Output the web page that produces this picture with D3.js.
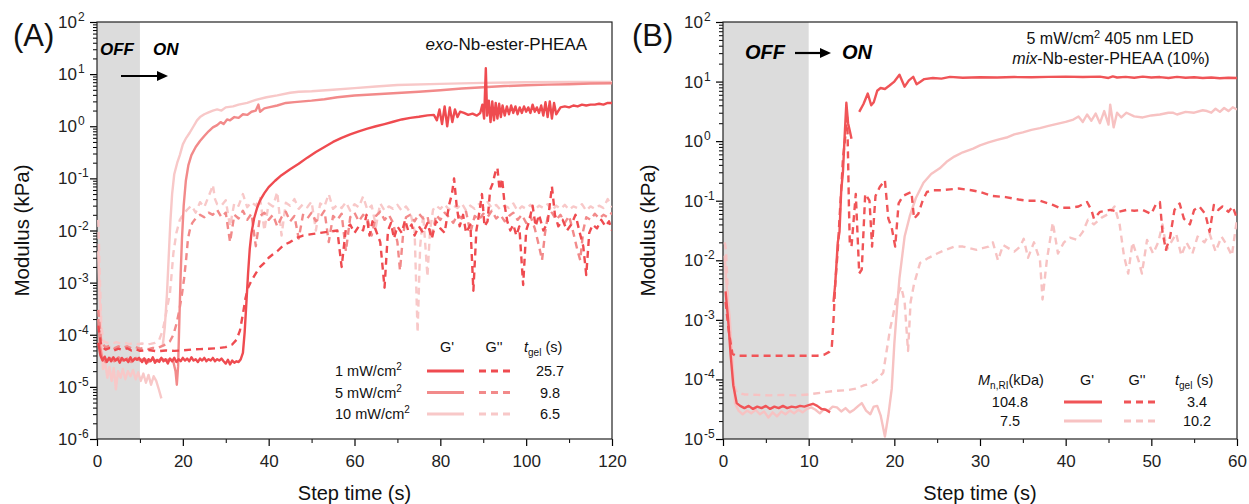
<!DOCTYPE html>
<html>
<head>
<meta charset="utf-8">
<script src="https://cdn.jsdelivr.net/npm/d3@7"></script>
<style>
  body { margin: 0; background: #fff; }
  svg { font-family: "Liberation Sans", Arial, sans-serif; }
</style>
</head>
<body>
<div class="chart"></div>
<script>
// #region Data (step time s, modulus kPa); null = gap in the trace

// panel A : exo-Nb-ester-PHEAA, three light intensities
const aIntensity = ["1 mW/cm", "5 mW/cm", "10 mW/cm"];
const aTgel = ["25.7", "9.8", "6.5"];
const aG1 = [[0.3,7e-5],[0.8,4e-5],[1.3,3.2e-5],[1.8,3.8e-5],[2.3,3e-5],[2.8,3.6e-5],[3.3,3.1e-5],[3.8,3.7e-5],[4.3,3.2e-5],[4.8,3.5e-5],[5.3,2.9e-5],[5.8,3.6e-5],[6.3,3.2e-5],[6.8,3.4e-5],[7.3,3e-5],[7.8,3.7e-5],[8.3,3.1e-5],[8.8,3.5e-5],[9.3,3.3e-5],[9.8,3.6e-5],[10.5,3e-5],[11,3.5e-5],[11.5,2.8e-5],[12,3.4e-5],[12.5,3.1e-5],[13,3.7e-5],[13.5,2.9e-5],[14,3.3e-5],[14.5,3e-5],[15,3.6e-5],[15.5,3.1e-5],[16,3.4e-5],[16.5,2.8e-5],[17,3.5e-5],[17.5,3.1e-5],[18,3.6e-5],[18.5,3e-5],[19,3.4e-5],[19.5,3.1e-5],[20,3.6e-5],[20.5,3.2e-5],[21,3.5e-5],[21.5,3.1e-5],[22,3.7e-5],[22.5,3.2e-5],[23,3.4e-5],[23.5,3e-5],[24,3.5e-5],[24.5,3.2e-5],[25,3.6e-5],[25.5,3.1e-5],[26,3.4e-5],[26.5,3.2e-5],[27,3.6e-5],[27.5,3.1e-5],[28,3.4e-5],[28.5,3.2e-5],[29,3.5e-5],[29.5,3.1e-5],[30,2.8e-5],[30.5,3.3e-5],[31,2.7e-5],[31.5,3.2e-5],[32,2.9e-5],[32.5,3.1e-5],[33,3e-5],[33.5,3.4e-5],[34,4.5e-5],[34.4,1.1e-4],[34.8,4e-4],[35.2,1.5e-3],[35.6,4.5e-3],[36,9e-3],[36.6,0.017],[37.3,0.027],[38,0.038],[39,0.052],[40,0.068],[41.5,0.09],[43,0.115],[45,0.15],[47,0.19],[49,0.25],[51,0.32],[53,0.4],[55,0.5],[57,0.6],[59,0.7],[61,0.8],[63,0.9],[65,1.0],[67,1.1],[69,1.22],[71,1.35],[73,1.45],[75,1.52],[77,1.62],[78.5,1.65],[79.2,1.3],[79.8,2.1],[80.4,1.1],[81,2.4],[81.6,1.0],[82.2,2.3],[82.8,1.2],[83.4,2.1],[84,1.5],[84.6,1.9],[85.5,1.8],[86.5,1.65],[87.5,1.75],[88.5,1.6],[89.3,1.8],[89.8,2.6],[90.2,1.4],[90.6,13],[90.9,1.6],[91.3,3.1],[91.7,1.2],[92.1,3.0],[92.5,1.3],[92.9,2.8],[93.3,1.4],[93.7,2.7],[94.1,1.5],[94.5,2.5],[95,1.6],[95.5,2.4],[96,1.7],[96.5,2.5],[97,1.8],[97.5,2.4],[98,1.7],[98.5,2.3],[99,1.8],[99.5,2.4],[100,1.9],[100.5,2.3],[101,1.8],[101.5,2.6],[102,1.9],[102.5,2.3],[103,1.8],[103.5,2.5],[104,1.6],[104.5,2.9],[105,1.5],[105.5,3.0],[106,1.4],[106.5,2.8],[107,1.7],[108,2.3],[109,2.4],[110,2.3],[111,2.5],[112,2.4],[113,2.6],[114,2.5],[115,2.6],[116,2.6],[117,2.7],[118,2.6],[119,2.8],[120,2.8]];
const aG5 = [[0.3,2e-4],[0.7,6e-5],[1.2,3.6e-5],[2,3e-5],[3,3.6e-5],[4,3.1e-5],[5,3.7e-5],[6,3.2e-5],[7,3.5e-5],[8,3e-5],[9,3.6e-5],[10,3.2e-5],[11,3.5e-5],[12,3e-5],[13,3.4e-5],[14,3.1e-5],[15,3.5e-5],[16,3.2e-5],[17,3.4e-5],[17.8,3e-5],[18.3,2e-5],[18.6,1.1e-5],[18.9,2.5e-5],[19.2,2e-4],[19.5,1.5e-3],[19.8,7e-3],[20.2,0.03],[20.7,0.09],[21.3,0.18],[22,0.28],[23,0.4],[24,0.52],[25,0.65],[26,0.8],[27,0.95],[28,1.05],[28.8,1.2],[29.5,1.1],[30.3,1.35],[31,1.3],[32,1.5],[33,1.45],[34,1.7],[35,1.65],[36,1.9],[37,2.0],[37.6,2.6],[38,1.9],[39,2.2],[40,2.3],[42,2.5],[44,2.8],[46,2.9],[48,3.0],[50,3.1],[53,3.3],[56,3.6],[60,3.9],[65,4.1],[70,4.35],[75,4.6],[80,4.9],[85,5.3],[90,5.6],[95,5.9],[100,6.1],[105,6.3],[110,6.4],[115,6.6],[120,6.7]];
const aG10 = [[0.3,4e-3],[0.6,6e-4],[1,9e-5],[1.4,2.2e-5],[1.9,3e-5],[2.4,1.5e-5],[2.9,2.4e-5],[3.4,1.3e-5],[3.9,2.3e-5],[4.4,9e-6],[4.9,2e-5],[5.5,1.5e-5],[6,2.2e-5],[6.6,1.4e-5],[7.2,2e-5],[7.8,1.6e-5],[8.4,2.1e-5],[9,1.4e-5],[9.6,1.9e-5],[10.2,1.3e-5],[10.8,1.8e-5],[11.4,1.2e-5],[12,1.7e-5],[12.6,1.1e-5],[13.2,1.6e-5],[13.8,1.3e-5],[14.4,9e-6],[15,6e-6],null,[15.3,6e-5],[15.8,1.4e-4],[16.3,6e-4],[16.7,3e-3],[17.1,0.015],[17.5,0.05],[18,0.12],[18.7,0.2],[19.3,0.28],[20,0.45],[20.8,0.6],[21.6,0.75],[22.5,1.0],[23.3,1.3],[24,1.5],[25,1.7],[26,1.85],[27,2.0],[28,2.1],[29,2.0],[30,2.3],[31.7,2.4],[33,2.6],[35,2.8],[37,3.2],[39.5,3.6],[42,3.9],[45,4.4],[47,4.6],[50,4.7],[55,5.0],[60,5.4],[65,5.8],[70,6.2],[80,6.5],[90,6.8],[100,7.0],[110,7.1],[120,7.1]];
const aV1 = [[0.3,1.5e-4],[1,6e-5],[2,5.2e-5],[3,5.6e-5],[4,5e-5],[5,5.4e-5],[6,5.1e-5],[7,5.5e-5],[8,5e-5],[9,5.3e-5],[10,4.9e-5],[12,5.1e-5],[14,4.8e-5],[16,5e-5],[18,4.9e-5],[20,5e-5],[22,5.2e-5],[24,5.3e-5],[26,5.4e-5],[28,5.5e-5],[30,5.8e-5],[31.5,6.5e-5],[32.5,8e-5],[33.3,1.2e-4],[34,2.5e-4],[34.6,5e-4],[35.2,8e-4],[36,1.1e-3],[37,1.5e-3],[38,2e-3],[39,2.4e-3],[40,3e-3],[41,3.5e-3],[42,4e-3],[43,4.8e-3],[44,5.5e-3],[45,6e-3],[46,6.8e-3],[47,7.5e-3],[48,8e-3],[50,8.5e-3],[52,9e-3],[54,9.5e-3],[56,0.01],[57,2e-3],[58,0.011],[59,0.013],[60,0.009],[61,0.012],[62,0.01],[62.8,0.02],[63.5,0.008],[64.2,0.015],[65,0.01],[66,0.006],[67,8e-4],[67.8,0.01],[68.5,0.014],[69.2,0.007],[70,0.012],[71,0.009],[71.8,0.016],[72.5,0.01],[73.3,0.013],[74,0.008],[75,0.012],[76,0.009],[77,0.014],[78,0.007],[79,0.015],[80,0.011],[81,0.009],[82,0.03],[82.7,0.05],[83.2,0.1],[83.8,0.03],[84.5,0.012],[85.3,0.02],[86,0.009],[87,0.013],[87.7,7e-4],[88.4,0.01],[89,0.02],[89.7,0.05],[90.3,0.012],[91,0.015],[91.6,0.06],[92.2,0.08],[92.8,0.13],[93.3,0.16],[93.8,0.06],[94.4,0.1],[95,0.03],[95.6,0.015],[96.3,0.01],[97,0.013],[97.7,0.008],[98.4,0.012],[99.3,9e-4],[100,0.01],[100.7,0.015],[101.5,0.03],[102.2,0.012],[103,0.02],[104,0.01],[105,0.014],[106,0.07],[106.7,0.02],[107.5,0.012],[108.5,0.016],[109.5,0.01],[110.5,0.013],[111.5,0.02],[112.5,0.009],[113.3,0.005],[114,1.4e-3],[114.7,0.009],[115.5,0.013],[116.5,0.011],[117.5,0.016],[118.5,0.012],[119.3,0.015],[120,0.01]];
const aV5 = [[0.3,3e-4],[1,7e-5],[2,5.8e-5],[3,6.2e-5],[4,5.5e-5],[5,6e-5],[6,5.6e-5],[7,6e-5],[8,5.5e-5],[9,5.8e-5],[10,5.4e-5],[11,5.6e-5],[12,5.3e-5],[13,5.6e-5],[14,5.5e-5],[15,6e-5],[16,6.5e-5],[17,7.5e-5],[17.8,1e-4],[18.5,1.6e-4],[19.2,3e-4],[19.8,6e-4],[20.3,1.2e-3],[20.8,3e-3],[21.2,7e-3],[21.6,0.01],[22.2,0.014],[23,0.017],[24,0.02],[25,0.018],[26,0.022],[27,0.02],[28,0.025],[29,0.018],[30,0.022],[31,0.006],[32,0.02],[33,0.017],[34,0.024],[35,0.016],[36,0.021],[37,0.005],[38,0.019],[39,0.022],[40,0.016],[41,0.02],[42,0.012],[43,0.018],[44,0.023],[45,0.015],[46,0.019],[47,0.007],[48,0.02],[49,0.017],[50,0.022],[51,0.015],[52,0.018],[53,0.024],[54,0.006],[55,0.019],[56,0.016],[57,0.021],[58,0.004],[59,0.018],[60,0.022],[61,0.015],[62,0.02],[63,0.017],[64,0.008],[65,0.019],[66,0.023],[67,0.016],[68,0.02],[69,0.014],[70,0.006],[70.6,1.7e-3],[71.3,0.008],[72,0.018],[73,0.02],[74,0.015],[75,0.021],[76,0.017],[77,0.019],[78,0.007],[79,0.02],[80,0.016],[81,0.022],[82,0.018],[83,0.014],[84,0.02],[85,0.017],[86,0.023],[87,0.009],[88,0.019],[89,0.016],[90,0.021],[91,0.018],[92,0.024],[93,0.017],[94,0.02],[95,0.015],[96,0.019],[97,0.022],[98,0.016],[99,0.02],[100,0.014],[101,0.019],[102,0.011],[103,0.005],[103.7,2.7e-3],[104.4,0.009],[105,0.018],[106,0.022],[107,0.016],[108,0.02],[109,0.014],[110,0.019],[111,0.009],[112,0.004],[112.6,2.7e-3],[113.3,0.01],[114,0.018],[115,0.016],[116,0.021],[117,0.017],[118,0.02],[119,0.018],[120,0.022]];
const aV10 = [[0.3,0.016],[0.6,2e-3],[1,1.5e-4],[1.5,7.5e-5],[2.5,7e-5],[3.5,6.8e-5],[4.5,7.2e-5],[5.5,6.8e-5],[6.5,7e-5],[7.5,6.6e-5],[8.5,6.9e-5],[9.5,6.6e-5],[10.5,6.8e-5],[11.5,6.5e-5],[12.5,6.7e-5],[13.5,7e-5],[14.5,8e-5],[15.3,1.2e-4],[15.8,1.9e-4],[16.4,3.5e-4],[17,6.3e-4],[17.4,1.5e-3],[17.8,3.7e-3],[18.5,9e-3],[19.3,0.016],[20,0.02],[21,0.025],[22,0.03],[23,0.022],[24,0.035],[25,0.028],[26,0.045],[26.6,0.06],[27,0.075],[27.5,0.04],[28,0.032],[29,0.03],[30,0.038],[31,0.012],[32,0.034],[33,0.03],[34,0.05],[35,0.028],[36,0.035],[37,0.03],[38,0.042],[39,0.01],[40,0.033],[41,0.029],[42,0.055],[43,0.008],[44,0.034],[45,0.03],[46,0.04],[47,0.026],[48,0.032],[49,0.028],[50,0.036],[51,0.01],[52,0.033],[53,0.029],[54,0.05],[55,0.026],[56,0.031],[57,0.027],[58,0.035],[59,0.024],[60,0.032],[61,0.028],[62,0.045],[63,0.025],[64,0.03],[65,0.012],[66,0.033],[67,0.024],[68,0.029],[69,0.026],[70,0.031],[71,0.024],[72,0.029],[73,0.022],[74,0.01],[74.7,1.1e-4],[75.3,0.005],[76,0.02],[76.6,0.004],[77,1.3e-3],[77.6,0.01],[78.3,0.025],[79,0.03],[80,0.026],[81,0.032],[82,0.025],[83,0.03],[84,0.027],[85,0.033],[86,0.024],[87,0.03],[88,0.026],[89,0.032],[90,0.028],[91,0.035],[92,0.027],[93,0.031],[94,0.025],[95,0.03],[96,0.027],[97,0.033],[98,0.024],[99,0.029],[100,0.026],[101,0.031],[102,0.025],[103,0.03],[104,0.027],[105,0.032],[106,0.024],[107,0.03],[108,0.026],[109,0.031],[110,0.025],[111,0.029],[112,0.027],[113,0.032],[114,0.024],[115,0.029],[116,0.026],[117,0.03],[118,0.027],[119,0.04],[120,0.028]];

// panel B : mix-Nb-ester-PHEAA (10%), two molecular weights
const bMn = ["104.8", "7.5"];
const bTgel = ["3.4", "10.2"];
const bG104 = [[0.3,3e-3],[0.6,1e-3],[0.9,2.5e-4],[1.2,8e-5],[1.6,4e-5],[2,3.6e-5],[2.5,3.3e-5],[3,3.6e-5],[3.5,3.2e-5],[4,3.5e-5],[4.5,3.3e-5],[5,3.6e-5],[5.5,3.2e-5],[6,3.5e-5],[6.5,3.3e-5],[7,3.6e-5],[7.5,3.3e-5],[8,3.5e-5],[8.5,3.4e-5],[9,3.6e-5],[9.5,3.5e-5],[10,3.7e-5],[10.5,3.9e-5],[11,3.6e-5],[11.5,3.2e-5],[12,3.1e-5],[12.5,2.8e-5],null,[12.9,2e-3],[13.1,4e-3],[13.4,0.02],[13.6,0.03],[13.8,0.15],[14,0.3],[14.2,1.2],[14.4,4.4],[14.6,2.0],[14.8,1.5],[15,1.1],null,[15.9,3.1],[16.4,4.2],[16.9,6.3],[17.3,4.0],[17.6,4.5],[18,7.0],[18.4,7.8],[18.9,7.5],[19.4,8.5],[20,10],[20.6,13],[21.2,8.2],[21.7,10.5],[22.2,12],[22.6,9],[23,9.8],[23.5,11],[24.5,11.5],[25.5,11.2],[26.5,12],[28,11.6],[30,11.8],[32,11.7],[34,11.9],[36,11.8],[38,12],[40,12.1],[42,11.9],[44,12.1],[45,11.5],[45.5,12.2],[46,11.7],[47,12],[48,11.6],[49,12.1],[50,11.7],[51,11.9],[52,11.5],[53,12],[54,11.6],[55,11.8],[56,11.5],[57,11.7],[58,11.4],[59,11.6],[60,11.5]];
const bV104 = [[0.3,2e-3],[0.7,6e-4],[1.1,2.7e-4],[1.5,2.5e-4],[3,2.5e-4],[5,2.5e-4],[7,2.5e-4],[9,2.5e-4],[11,2.5e-4],[11.8,2.6e-4],[12.4,2.9e-4],[12.7,3.5e-4],[12.9,1e-3],[13.1,4e-3],[13.4,0.015],[13.6,0.05],[13.8,0.15],[14,0.5],[14.3,1.3],[14.5,2.5],[14.6,0.5],[14.7,0.08],[14.8,0.02],[15,0.017],[15.5,0.13],[15.9,0.006],[16.2,0.007],[16.6,0.13],[17.1,0.1],[17.4,0.017],[17.8,0.12],[18.3,0.17],[18.9,0.22],[19.3,0.05],[19.7,0.035],[20.1,0.017],[20.5,0.09],[21,0.12],[21.5,0.13],[22,0.14],[22.3,0.05],[22.8,0.06],[23.3,0.1],[23.8,0.14],[24.5,0.15],[25.5,0.15],[26.5,0.155],[27.5,0.16],[29,0.15],[30,0.14],[31.5,0.12],[33,0.115],[34.5,0.105],[35.5,0.1],[37,0.1],[38.5,0.085],[39.3,0.076],[40.5,0.076],[41.5,0.08],[42.5,0.095],[43,0.07],[43.3,0.05],[44,0.065],[45.2,0.07],[46.2,0.065],[47.1,0.07],[48,0.068],[49,0.07],[50,0.06],[50.5,0.085],[51,0.095],[51.3,0.03],[51.7,0.015],[52.2,0.025],[52.7,0.07],[53.3,0.09],[53.8,0.05],[54.5,0.04],[55,0.07],[55.6,0.08],[56.3,0.06],[56.8,0.03],[57.3,0.085],[57.8,0.07],[58.3,0.08],[59,0.065],[59.5,0.08],[60,0.05]];
const bG75 = [[0.2,0.012],[0.35,5e-3],[0.5,2.8e-3],[0.8,1e-3],[1.1,2e-4],[1.4,4e-5],[1.8,3e-5],[2.3,2.6e-5],[2.8,3e-5],[3.3,2.7e-5],[3.8,3.1e-5],[4.3,2.6e-5],[4.8,2.9e-5],[5.3,2.3e-5],[5.8,2.8e-5],[6.3,2.4e-5],[6.8,2.9e-5],[7.3,2.6e-5],[7.8,3e-5],[8.3,2.7e-5],[8.8,3.1e-5],[9.3,2.8e-5],[9.8,3.2e-5],[10.3,3.4e-5],[10.8,3.1e-5],[11.3,2.7e-5],[11.8,3.2e-5],[12.3,3e-5],[12.8,3.5e-5],[13.3,3.4e-5],[13.8,2.9e-5],[14.3,3.3e-5],[14.8,2.8e-5],[15.3,3.1e-5],[15.8,3.6e-5],[16.2,4e-5],[16.7,3e-5],[17.2,2.6e-5],[17.6,3.5e-5],[18,3.6e-5],[18.4,2.5e-5],[18.9,1.1e-5],[19.3,2.5e-5],[19.7,7e-5],[20,4e-4],[20.3,1.5e-3],[20.6,5e-3],[21.2,0.025],[21.8,0.055],[22.5,0.11],[23.4,0.2],[24.3,0.28],[25.3,0.35],[26.1,0.45],[27,0.55],[28,0.65],[29.2,0.75],[30,0.85],[31,0.95],[32,1.05],[33.1,1.15],[34,1.3],[35,1.4],[36,1.55],[37,1.65],[38,1.8],[39,1.95],[40,2.1],[40.9,2.3],[41.5,2.6],[42,2.1],[42.5,2.8],[43,2.2],[43.5,2.9],[44,2.0],[44.5,3.2],[45,1.9],[45.2,4.1],[45.6,1.7],[46,3.0],[46.5,2.5],[47.1,3.0],[48,2.6],[49,2.5],[50,2.7],[51,2.8],[52,3.0],[52.5,3.0],[53,2.8],[54,3.1],[55,3.0],[56,3.3],[56.5,3.2],[57,3.0],[57.5,3.5],[58,3.1],[58.5,3.6],[59,3.2],[59.5,3.7],[60,3.4]];
const bV75 = [[0.2,0.02],[0.35,0.015],[0.6,2e-3],[0.9,4e-4],[1.2,9e-5],[1.6,6e-5],[2.5,5.6e-5],[4,5.5e-5],[5.5,5.4e-5],[7,5.5e-5],[8.5,5.4e-5],[10,5.6e-5],[11.5,6e-5],[13,6.4e-5],[14.5,6.6e-5],[15.5,7e-5],[16.5,8e-5],[17.3,8.5e-5],[18,1e-4],[18.7,1.3e-4],[19.1,3e-4],[19.5,7e-4],[19.8,1.1e-3],[20.3,2.5e-3],[20.8,3.6e-3],[21.2,2e-3],[21.6,3e-4],[21.9,2e-3],[22.3,4e-3],[23,0.009],[24,0.011],[25,0.013],[26,0.015],[27,0.017],[28,0.017],[29.6,0.015],[30.3,0.016],[31,0.017],[31.5,0.02],[32.1,0.01],[32.7,0.018],[33.3,0.016],[34,0.014],[34.7,0.017],[35.1,0.023],[35.6,0.011],[36.3,0.02],[37,0.01],[37.3,2.2e-3],[37.8,0.01],[38.5,0.043],[39.1,0.013],[39.8,0.02],[40.5,0.024],[41.3,0.022],[42,0.03],[42.6,0.048],[43.3,0.04],[44.2,0.052],[45,0.06],[45.7,0.08],[46.3,0.04],[46.8,0.012],[47.3,6e-3],[47.8,0.02],[48.5,0.01],[48.9,6e-3],[49.5,0.022],[50.2,0.013],[50.8,0.02],[51.3,0.04],[51.8,0.015],[52.3,0.02],[52.9,0.028],[53.5,0.012],[54.1,0.02],[54.8,0.013],[55.4,0.025],[56.2,0.02],[56.8,0.028],[57.5,0.014],[58.2,0.025],[58.8,0.018],[59.4,0.012],[60,0.05]];
// #endregion

const colDark = "#ef4b50", colMid = "#f28a8a", colLight = "#f8c8c8";
const colBDark = "#f05457", colBLight = "#f7c2c2";
const DASH = "7,5";

const svg = d3.select(".chart").append("svg")
    .attr("width", 1249).attr("height", 504);

// draws one panel (frame, shading, log y axis, x axis, titles), returns scales
function DrawPanel({ x0, x1, y0, y1, xMax, xMajor, xMinor, yMinExp, yMaxExp, label, labelX, ylabX }) {
    const x = d3.scaleLinear().domain([0, xMax]).range([x0, x1]);
    const y = d3.scaleLog().domain([Math.pow(10, yMinExp), Math.pow(10, yMaxExp)]).range([y1, y0]);
    const g = svg.append("g");
    const id = "clip" + label.replace(/\W/g, "");
    svg.append("clipPath").attr("id", id).append("rect")
        .attr("x", x0).attr("y", y0).attr("width", x1 - x0).attr("height", y1 - y0);

    // OFF region
    g.append("rect").attr("x", x(0)).attr("y", y0).attr("width", x(10) - x(0)).attr("height", y1 - y0)
        .attr("fill", "#dcdcdc");

    // y axis (log)
    const majors = d3.range(yMinExp, yMaxExp + 1).map(e => Math.pow(10, e));
    const minors = [];
    majors.slice(0, -1).forEach(m => { for (let k = 2; k <= 9; k++) minors.push(m * k); });
    g.append("g").attr("transform", `translate(${x0},0)`)
        .call(d3.axisLeft(y).tickValues(minors).tickSize(4).tickFormat(""))
        .call(a => a.select(".domain").remove());
    const ya = g.append("g").attr("transform", `translate(${x0},0)`)
        .call(d3.axisLeft(y).tickValues(majors).tickSize(7).tickFormat(""));
    ya.select(".domain").remove();
    ya.selectAll(".tick line").attr("stroke-width", 1.2);
    majors.forEach(m => {
        const e = Math.round(Math.log10(m));
        g.append("text").attr("x", x0 - 20).attr("y", y(m) + 6)
            .attr("text-anchor", "end").attr("font-size", 17).attr("fill", "#222").text("10");
        g.append("text").attr("x", x0 - 19).attr("y", y(m) - 1)
            .attr("font-size", 12).attr("fill", "#222").text(e);
    });

    // x axis
    g.append("g").attr("transform", `translate(0,${y1})`)
        .call(d3.axisBottom(x).tickValues(d3.range(xMinor, xMax, xMajor)).tickSize(4).tickFormat(""))
        .call(a => a.select(".domain").remove());
    const xa = g.append("g").attr("transform", `translate(0,${y1})`)
        .call(d3.axisBottom(x).tickValues(d3.range(0, xMax + 1, xMajor)).tickSize(7).tickPadding(9));
    xa.select(".domain").remove();
    xa.selectAll(".tick line").attr("stroke-width", 1.2);
    xa.selectAll("text").attr("font-size", 17).attr("fill", "#222").attr("font-family", "Liberation Sans, Arial, sans-serif");

    // frame
    g.append("rect").attr("x", x0).attr("y", y0).attr("width", x1 - x0).attr("height", y1 - y0)
        .attr("fill", "none").attr("stroke", "#222").attr("stroke-width", 1.2);

    // titles
    g.append("text").attr("x", (x0 + x1) / 2).attr("y", 500).attr("text-anchor", "middle")
        .attr("font-size", 20).attr("fill", "#111").text("Step time (s)");
    g.append("text").attr("transform", `translate(${ylabX},${(y0 + y1) / 2}) rotate(-90)`)
        .attr("text-anchor", "middle").attr("font-size", 20.5).attr("fill", "#111").text("Modulus (kPa)");
    g.append("text").attr("x", labelX).attr("y", 46).attr("font-size", 31).attr("fill", "#111").text(label);

    const plot = svg.append("g").attr("clip-path", `url(#${id})`);
    return { x, y, plot };
}

function drawSeries(p, data, color, dashed) {
    const line = d3.line().defined(d => d != null).x(d => p.x(d[0])).y(d => p.y(d[1]));
    p.plot.append("path").datum(data).attr("d", line)
        .attr("fill", "none").attr("stroke", color).attr("stroke-width", 2.4)
        .attr("stroke-linejoin", "round")
        .attr("stroke-dasharray", dashed ? DASH : null);
}

function arrow(x1, x2, y) {
    svg.append("line").attr("x1", x1).attr("x2", x2 - 8).attr("y1", y).attr("y2", y)
        .attr("stroke", "#000").attr("stroke-width", 2.2);
    svg.append("path").attr("d", `M${x2},${y} L${x2 - 11},${y - 5} L${x2 - 11},${y + 5} Z`).attr("fill", "#000");
}

// #region Panel A
const pA = DrawPanel({ x0: 97, x1: 612, y0: 22, y1: 439, xMax: 120, xMajor: 20, xMinor: 10,
    yMinExp: -6, yMaxExp: 2, label: "(A)", labelX: 13, ylabX: 29 });
drawSeries(pA, aV10, colLight, true);
drawSeries(pA, aG10, colLight, false);
drawSeries(pA, aV5, colMid, true);
drawSeries(pA, aG5, colMid, false);
drawSeries(pA, aV1, colDark, true);
drawSeries(pA, aG1, colDark, false);

svg.append("text").attr("x", 100).attr("y", 55).attr("font-size", 17).attr("font-weight", "bold")
    .attr("font-style", "italic").text("OFF");
svg.append("text").attr("x", 153).attr("y", 55).attr("font-size", 17).attr("font-weight", "bold")
    .attr("font-style", "italic").text("ON");
arrow(121, 168, 76);

const tA = svg.append("text").attr("x", 587).attr("y", 50).attr("text-anchor", "end")
    .attr("font-size", 17).attr("fill", "#111");
tA.append("tspan").attr("font-style", "italic").text("exo");
tA.append("tspan").text("-Nb-ester-PHEAA");

// legend A
const legA = svg.append("g").attr("font-size", 14.5).attr("fill", "#111");
legA.append("text").attr("x", 447).attr("y", 352).attr("text-anchor", "middle").text("G'");
legA.append("text").attr("x", 494).attr("y", 352).attr("text-anchor", "middle").text("G''");
const tgA = legA.append("text").attr("x", 524).attr("y", 352);
tgA.append("tspan").attr("font-style", "italic").text("t");
tgA.append("tspan").attr("font-size", 10).attr("dy", 4).text("gel");
tgA.append("tspan").attr("dy", -4).text(" (s)");
const aCols = [colDark, colMid, colLight];
aIntensity.forEach((lab, i) => {
    const yy = 376 + i * 21.5;
    const t = legA.append("text").attr("x", 335).attr("y", yy);
    t.append("tspan").text(lab);
    t.append("tspan").attr("font-size", 10).attr("dy", -6).text("2");
    legA.append("line").attr("x1", 427).attr("x2", 464).attr("y1", yy - 5).attr("y2", yy - 5)
        .attr("stroke", aCols[i]).attr("stroke-width", 3);
    legA.append("line").attr("x1", 479).attr("x2", 514).attr("y1", yy - 5).attr("y2", yy - 5)
        .attr("stroke", aCols[i]).attr("stroke-width", 3).attr("stroke-dasharray", DASH);
    legA.append("text").attr("x", 550).attr("y", yy).attr("text-anchor", "middle").text(aTgel[i]);
});
// #endregion

// #region Panel B
const pB = DrawPanel({ x0: 723, x1: 1237, y0: 22, y1: 439, xMax: 60, xMajor: 10, xMinor: 5,
    yMinExp: -5, yMaxExp: 2, label: "(B)", labelX: 632, ylabX: 655 });
drawSeries(pB, bV75, colBLight, true);
drawSeries(pB, bG75, colBLight, false);
drawSeries(pB, bV104, colBDark, true);
drawSeries(pB, bG104, colBDark, false);

svg.append("text").attr("x", 745).attr("y", 59).attr("font-size", 20).attr("font-weight", "bold")
    .attr("font-style", "italic").text("OFF");
svg.append("text").attr("x", 842).attr("y", 59).attr("font-size", 20).attr("font-weight", "bold")
    .attr("font-style", "italic").text("ON");
arrow(795, 831, 53);

const tB1 = svg.append("text").attr("x", 1110).attr("y", 44).attr("text-anchor", "middle")
    .attr("font-size", 16).attr("fill", "#111");
tB1.append("tspan").text("5 mW/cm");
tB1.append("tspan").attr("font-size", 11).attr("dy", -6).text("2");
tB1.append("tspan").attr("dy", 6).text(" 405 nm LED");
const tB2 = svg.append("text").attr("x", 1111).attr("y", 64).attr("text-anchor", "middle")
    .attr("font-size", 16).attr("fill", "#111");
tB2.append("tspan").attr("font-style", "italic").text("mix");
tB2.append("tspan").text("-Nb-ester-PHEAA (10%)");

// legend B
const legB = svg.append("g").attr("font-size", 14.5).attr("fill", "#111");
const mn = legB.append("text").attr("x", 978).attr("y", 385);
mn.append("tspan").attr("font-style", "italic").text("M");
mn.append("tspan").attr("font-size", 10).attr("dy", 4).text("n,RI");
mn.append("tspan").attr("dy", -4).text("(kDa)");
legB.append("text").attr("x", 1087).attr("y", 385).attr("text-anchor", "middle").text("G'");
legB.append("text").attr("x", 1137).attr("y", 385).attr("text-anchor", "middle").text("G''");
const tgB = legB.append("text").attr("x", 1175).attr("y", 385);
tgB.append("tspan").attr("font-style", "italic").text("t");
tgB.append("tspan").attr("font-size", 10).attr("dy", 4).text("gel");
tgB.append("tspan").attr("dy", -4).text(" (s)");
const bCols = [colBDark, colBLight];
bMn.forEach((lab, i) => {
    const yy = 407 + i * 19;
    legB.append("text").attr("x", 1010).attr("y", yy).attr("text-anchor", "middle").text(lab);
    legB.append("line").attr("x1", 1064).attr("x2", 1102).attr("y1", yy - 5).attr("y2", yy - 5)
        .attr("stroke", bCols[i]).attr("stroke-width", 3);
    legB.append("line").attr("x1", 1124).attr("x2", 1158).attr("y1", yy - 5).attr("y2", yy - 5)
        .attr("stroke", bCols[i]).attr("stroke-width", 3).attr("stroke-dasharray", DASH);
    legB.append("text").attr("x", 1197).attr("y", yy).attr("text-anchor", "middle").text(bTgel[i]);
});
// #endregion
</script>
</body>
</html>
